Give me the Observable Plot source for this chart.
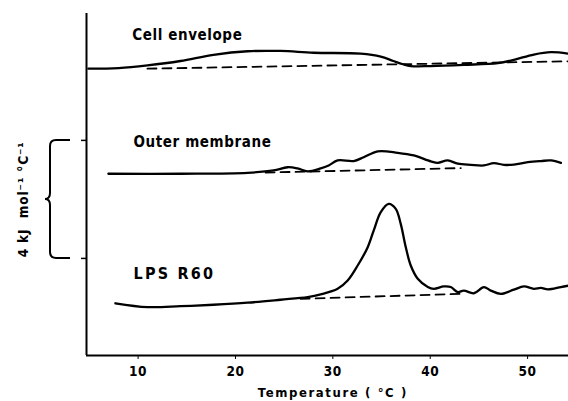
<!DOCTYPE html>
<html><head><meta charset="utf-8">
<script src="https://cdn.jsdelivr.net/npm/d3@7"></script>
<script src="https://cdn.jsdelivr.net/npm/@observablehq/plot@0.6"></script>
<style>
html,body{margin:0;padding:0;background:#fff;}
svg{display:block;}
svg text{letter-spacing:0.6px;}
svg .wide text{letter-spacing:2.2px;}
svg .title text{letter-spacing:1.6px;}
svg .ylab text{letter-spacing:0.9px;}
</style>
</head><body><div id="chart"></div>
<script>
// ---- axis definitions ----
const xTicks = [10, 20, 30, 40, 50];
const xDomain = [4.7, 54.2];
const yDomain = [0, 11.59];
const scaleBar = [3.29, 7.29]; // 4 kJ mol-1 °C-1 scale bar
const xLabel = "Temperature ( °C )";
const yLabel = "4 kJ  mol⁻¹ °C⁻¹";

// ---- curve labels ----
const labelNames = ["Cell envelope", "Outer membrane", "LPS R60"];
const labelT = [9.39, 9.53, 9.53];
const labelCp = [10.85, 7.22, 2.78];

// ---- Cell envelope ----
const cellT = [4.89, 8.0, 10.96, 14.35, 17.74, 21.24, 24.63, 28.03, 32.86, 34.92, 36.2, 37.2, 38.0, 40.06, 43.45, 46.95, 48.59, 50.64, 52.4, 54.14];
const cellCp = [9.72, 9.74, 9.83, 9.98, 10.19, 10.31, 10.32, 10.26, 10.23, 10.13, 9.98, 9.87, 9.81, 9.81, 9.85, 9.91, 10.02, 10.20, 10.28, 10.23];
const cellBaseT = [10.96, 54.14];
const cellBaseCp = [9.72, 9.97];

// ---- Outer membrane ----
const outerT = [6.95, 14.35, 21.24, 23.91, 25.35, 26.38, 27.41, 28.75, 29.57, 30.49, 32.14, 33.17, 34.61, 36.66, 38.31, 40.06, 40.77, 41.80, 42.83, 44.17, 45.51, 46.54, 47.56, 48.59, 50.03, 51.37, 52.40, 53.42];
const outerCp = [6.16, 6.16, 6.19, 6.27, 6.38, 6.34, 6.24, 6.34, 6.44, 6.61, 6.59, 6.72, 6.92, 6.87, 6.78, 6.58, 6.53, 6.61, 6.50, 6.46, 6.44, 6.52, 6.46, 6.47, 6.55, 6.59, 6.61, 6.53];
const outerBaseT = [23.09, 43.14];
const outerBaseCp = [6.20, 6.35];

// ---- LPS R60 ----
const lpsT = [7.67, 10.96, 14.35, 17.74, 21.24, 24.63, 27.41, 28.75, 30.49, 31.52, 32.55, 33.58, 34.20, 34.92, 35.74, 36.46, 36.97, 37.49, 38.00, 38.72, 39.75, 40.37, 41.39, 42.11, 42.83, 43.45, 44.48, 45.51, 46.22, 47.26, 48.59, 49.62, 50.64, 51.37, 52.09, 53.42, 54.25];
const lpsCp = [1.77, 1.64, 1.67, 1.72, 1.79, 1.89, 1.98, 2.07, 2.26, 2.54, 3.05, 3.67, 4.24, 4.86, 5.14, 4.97, 4.46, 3.67, 3.05, 2.60, 2.32, 2.26, 2.34, 2.32, 2.15, 2.20, 2.11, 2.32, 2.20, 2.09, 2.23, 2.34, 2.26, 2.29, 2.24, 2.32, 2.37];
const lpsBaseT = [26.69, 43.14];
const lpsBaseCp = [1.92, 2.09];

const toRows = (name, T, Cp) => T.map((t, i) => ({series: name, t, cp: Cp[i]}));
const solid = [
  ...toRows("cell", cellT, cellCp),
  ...toRows("outer", outerT, outerCp),
  ...toRows("lps", lpsT, lpsCp)
];
const dashed = [
  ...toRows("cell", cellBaseT, cellBaseCp),
  ...toRows("outer", outerBaseT, outerBaseCp),
  ...toRows("lps", lpsBaseT, lpsBaseCp)
];
const labels = labelNames.map((n, i) => ({n, t: labelT[i], cp: labelCp[i]}));

const font = "'DejaVu Sans Condensed', 'DejaVu Sans', sans-serif";

// custom brace mark drawn with the y scale
function brace(index, scales, values, dims) {
  const y0 = scales.y(scaleBar[1]), y1 = scales.y(scaleBar[0]);
  const ym = (y0 + y1) / 2;
  const ax = dims.marginLeft;
  const xr = ax - 16, xc = ax - 36, xp = ax - 41;
  const r = 6;
  const p = d3.path();
  p.moveTo(xr, y0);
  p.lineTo(xc + r, y0);
  p.quadraticCurveTo(xc, y0, xc, y0 + r);
  p.lineTo(xc, ym - r);
  p.quadraticCurveTo(xc, ym, xp, ym);
  p.quadraticCurveTo(xc, ym, xc, ym + r);
  p.lineTo(xc, y1 - r);
  p.quadraticCurveTo(xc, y1, xc + r, y1);
  p.lineTo(xr, y1);
  const g = d3.create("svg:path")
    .attr("d", p.toString())
    .attr("fill", "none")
    .attr("stroke", "#000")
    .attr("stroke-width", 2);
  return g.node();
}

const chart = Plot.plot({
  width: 568,
  height: 401,
  marginLeft: 86,
  marginRight: 0,
  marginTop: 13,
  marginBottom: 46,
  style: {fontFamily: font, fontWeight: "bold", color: "#000", background: "#fff"},
  x: {domain: xDomain},
  y: {domain: yDomain},
  marks: [
    Plot.ruleX([xDomain[0]], {stroke: "#000", strokeWidth: 2}),
    Plot.ruleY([yDomain[0]], {stroke: "#000", strokeWidth: 2}),
    Plot.axisX({ticks: xTicks, tickSize: 4, tickPadding: 7, fontSize: 13.5, label: null, stroke: "#000"}),
    Plot.axisY({ticks: scaleBar, tickSize: 5, tickFormat: () => "", label: null, stroke: "#000", strokeWidth: 1.5}),
    Plot.line(dashed, {x: "t", y: "cp", z: "series", stroke: "#000", strokeWidth: 1.8, strokeDasharray: "9,6"}),
    Plot.line(solid, {x: "t", y: "cp", z: "series", stroke: "#000", strokeWidth: 2.3, curve: "catmull-rom"}),
    Plot.text(labels, {filter: (d, i) => i < 2, x: "t", y: "cp", text: "n", textAnchor: "start", fontSize: 15}),
    Plot.text(labels, {filter: (d, i) => i === 2, x: "t", y: "cp", text: "n", textAnchor: "start", fontSize: 16, className: "wide"}),
    Plot.text([xLabel], {frameAnchor: "bottom", x: () => 30, dy: 41, fontSize: 13, className: "title"}),
    Plot.text([yLabel], {frameAnchor: "left", textAnchor: "middle", y: () => (scaleBar[0] + scaleBar[1]) / 2, rotate: -90, dx: -63, fontSize: 13.5, className: "ylab"}),
    brace
  ]
});
document.getElementById("chart").appendChild(chart);
</script>
</body></html>
